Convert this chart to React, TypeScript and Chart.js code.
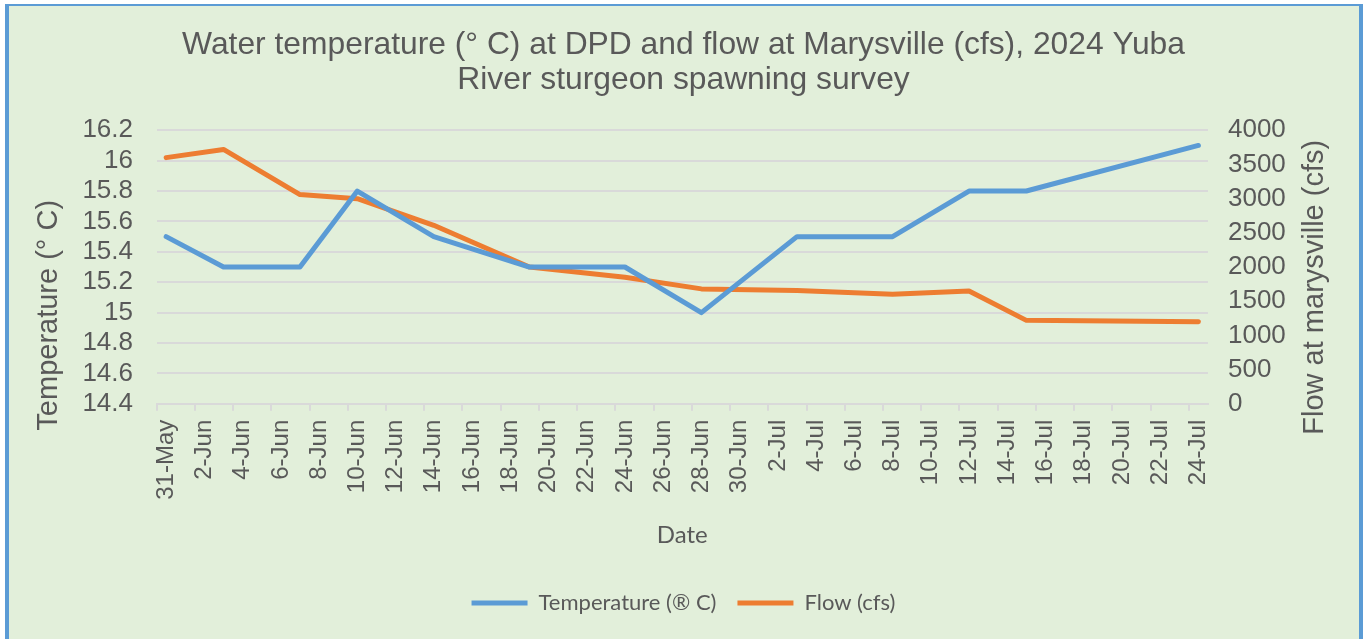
import { useEffect, useRef } from 'react';
import { Chart, registerables } from 'chart.js';

Chart.register(...registerables);

// ---- data ----
const sampleDates = [
  '2024-05-31', '2024-06-03', '2024-06-07', '2024-06-10', '2024-06-14',
  '2024-06-19', '2024-06-24', '2024-06-28', '2024-07-03', '2024-07-08',
  '2024-07-12', '2024-07-15', '2024-07-24',
];
const temperature = [15.5, 15.3, 15.3, 15.8, 15.5, 15.3, 15.3, 15.0, 15.5, 15.5, 15.8, 15.8, 16.1];
const flow = [3600, 3720, 3060, 3000, 2610, 2000, 1850, 1680, 1655, 1600, 1650, 1220, 1200];

const xTickLabels = [
  '31-May', '2-Jun', '4-Jun', '6-Jun', '8-Jun', '10-Jun', '12-Jun', '14-Jun',
  '16-Jun', '18-Jun', '20-Jun', '22-Jun', '24-Jun', '26-Jun', '28-Jun', '30-Jun',
  '2-Jul', '4-Jul', '6-Jul', '8-Jul', '10-Jul', '12-Jul', '14-Jul', '16-Jul',
  '18-Jul', '20-Jul', '22-Jul', '24-Jul',
];
const tempTicks = [14.4, 14.6, 14.8, 15, 15.2, 15.4, 15.6, 15.8, 16, 16.2];
const flowTicks = [0, 500, 1000, 1500, 2000, 2500, 3000, 3500, 4000];

const titleLines = [
  'Water temperature (° C) at DPD and flow at Marysville (cfs), 2024 Yuba',
  'River sturgeon spawning survey',
];
const leftTitle = 'Temperature (° C)';
const rightTitle = 'Flow at marysville (cfs)';

// ---- style ----
const TEXT = '#595959';
const GRID = '#D9D9D9';
const BLUE = '#5B9BD5';
const ORANGE = '#ED7D31';
const BG = '#E2EFDA';
const AXIS_FONT = '"Liberation Sans", Arial, sans-serif';
const LEGEND_FONT = 'Lato, "Open Sans", sans-serif';

const dayOffset = (iso: string) => {
  const [y, m, d] = iso.split('-').map(Number);
  return (Date.UTC(y, m - 1, d) - Date.UTC(2024, 4, 31)) / 86400000;
};

const axisTitlePlugin = {
  id: 'axisTitles',
  afterDraw(chart: any) {
    const { ctx, chartArea, scales } = chart;
    ctx.save();
    ctx.fillStyle = TEXT;
    ctx.font = `29px ${AXIS_FONT}`;
    ctx.textAlign = 'center';
    ctx.textBaseline = 'middle';
    // left
    ctx.save();
    ctx.translate(scales.y.left + 41, chartArea.top + 185);
    ctx.rotate(-Math.PI / 2);
    ctx.fillText(leftTitle, 0, 0);
    ctx.restore();
    // right
    ctx.save();
    ctx.translate(scales.y1.right - 44, chartArea.top + 157);
    ctx.rotate(-Math.PI / 2);
    ctx.fillText(rightTitle, 0, 0);
    ctx.restore();
    ctx.restore();
  },
};

export default function App() {
  const ref = useRef<HTMLCanvasElement>(null);

  useEffect(() => {
    if (!ref.current) return;
    const xs = sampleDates.map((d) => dayOffset(d) + 0.5);
    const chart = new Chart(ref.current, {
      type: 'line',
      data: {
        datasets: [
          {
            label: 'Temperature (® C)',
            data: xs.map((x, i) => ({ x, y: temperature[i] })),
            borderColor: BLUE,
            backgroundColor: BLUE,
            borderWidth: 5,
            pointRadius: 0,
            borderJoinStyle: 'round',
            borderCapStyle: 'round',
            yAxisID: 'y',
          },
          {
            label: 'Flow (cfs)',
            data: xs.map((x, i) => ({ x, y: flow[i] })),
            borderColor: ORANGE,
            backgroundColor: ORANGE,
            borderWidth: 5,
            pointRadius: 0,
            borderJoinStyle: 'round',
            borderCapStyle: 'round',
            yAxisID: 'y1',
          },
        ],
      },
      options: {
        responsive: false,
        animation: false,
        layout: { padding: { left: 8, right: 10, top: 0, bottom: 15 } },
        plugins: {
          title: {
            display: true,
            text: titleLines,
            color: TEXT,
            font: { family: AXIS_FONT, size: 31.8, weight: 'normal', lineHeight: 1.1 },
            padding: { top: 27.4, bottom: 32.9 },
          },
          legend: {
            position: 'bottom',
            labels: {
              usePointStyle: true,
              pointStyle: 'line',
              pointStyleWidth: 56,
              color: TEXT,
              font: { family: LEGEND_FONT, size: 22 },
              padding: 21,
            },
          },
          tooltip: { enabled: false },
        },
        scales: {
          x: {
            type: 'linear',
            min: 0,
            max: 55,
            afterBuildTicks: (scale: any) => {
              scale.ticks = xTickLabels.map((_, i) => ({ value: i * 2 }));
            },
            ticks: {
              autoSkip: false,
              maxRotation: 90,
              minRotation: 90,
              labelOffset: 9.6,
              padding: 9,
              color: TEXT,
              font: { family: AXIS_FONT, size: 24 },
              callback: (_v: any, i: number) => xTickLabels[i],
            },
            grid: {
              drawOnChartArea: false,
              drawTicks: true,
              tickLength: 7,
              color: GRID,
              lineWidth: 2,
            },
            border: { display: true, color: GRID, width: 2 },
            title: {
              display: true,
              text: 'Date',
              color: TEXT,
              font: { family: LEGEND_FONT, size: 24 },
              padding: { top: 11.8, bottom: 21.6 },
            },
          },
          y: {
            position: 'left',
            min: 14.4,
            max: 16.2,
            afterBuildTicks: (scale: any) => {
              scale.ticks = tempTicks.map((v) => ({ value: v }));
            },
            ticks: {
              autoSkip: false,
              padding: 23.6,
              color: TEXT,
              font: { family: AXIS_FONT, size: 26 },
              callback: (v: any) => String(Math.round(Number(v) * 10) / 10),
            },
            grid: { color: GRID, lineWidth: 2, drawTicks: false },
            border: { display: false },
            title: {
              display: true,
              text: leftTitle,
              color: 'rgba(0,0,0,0)',
              font: { family: AXIS_FONT, size: 29 },
              padding: { top: 0, bottom: 16 },
            },
          },
          y1: {
            position: 'right',
            min: 0,
            max: 4000,
            afterBuildTicks: (scale: any) => {
              scale.ticks = flowTicks.map((v) => ({ value: v }));
            },
            ticks: {
              autoSkip: false,
              padding: 20,
              color: TEXT,
              font: { family: AXIS_FONT, size: 26 },
              callback: (v: any) => String(v),
            },
            grid: { drawOnChartArea: false, drawTicks: false },
            border: { display: false },
            title: {
              display: true,
              text: rightTitle,
              color: 'rgba(0,0,0,0)',
              font: { family: AXIS_FONT, size: 29 },
              padding: { top: 0, bottom: 18.4 },
            },
          },
        },
      },
      plugins: [axisTitlePlugin],
    } as any);
    return () => chart.destroy();
  }, []);

  return (
    <div style={{ position: 'absolute', left: 0, top: 0, width: 1369, height: 639, background: '#fff', overflow: 'hidden' }}>
      <div
        style={{
          position: 'absolute',
          left: 5,
          top: 4,
          width: 1358,
          height: 700,
          boxSizing: 'border-box',
          borderLeft: `4px solid ${BLUE}`,
          borderTop: `2px solid ${BLUE}`,
          borderRight: `4px solid ${BLUE}`,
          background: BG,
        }}
      />
      <canvas ref={ref} width={1369} height={639} style={{ position: 'absolute', left: 0, top: 0 }} />
    </div>
  );
}
